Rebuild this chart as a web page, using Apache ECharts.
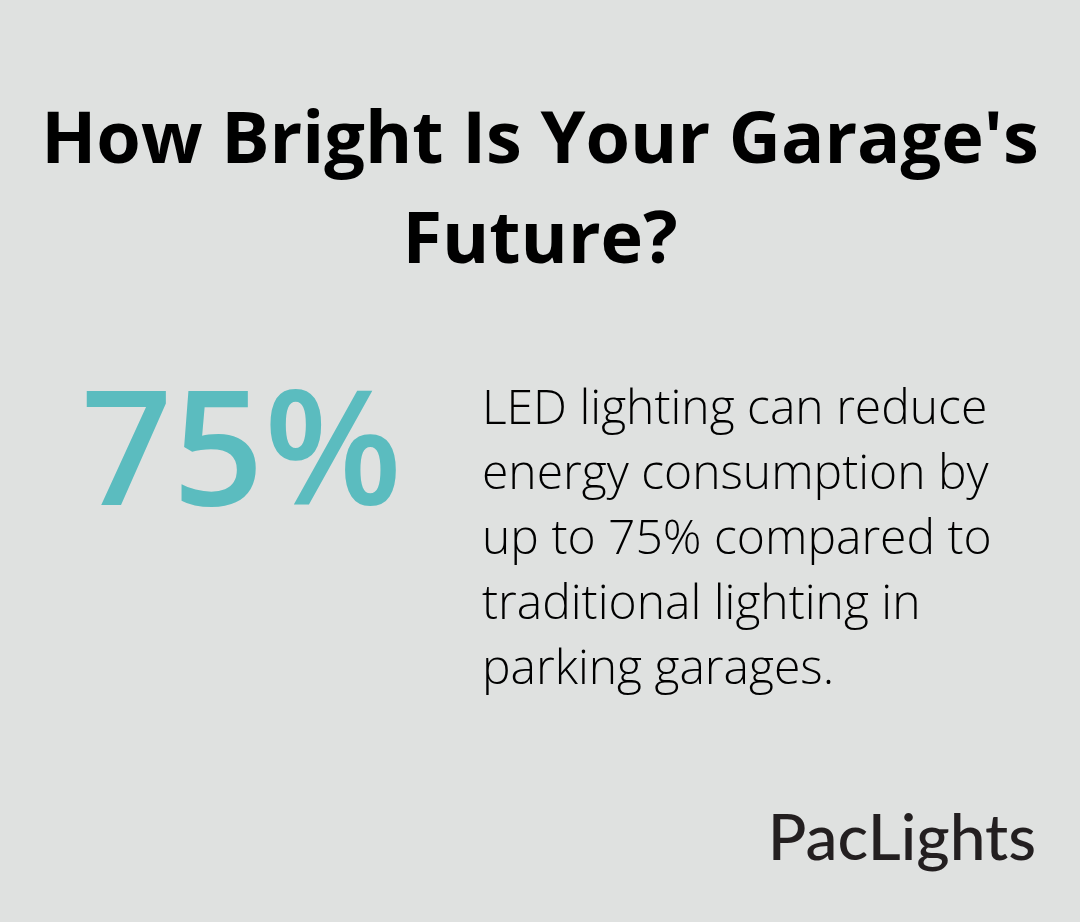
<!DOCTYPE html>
<html>
<head>
<meta charset="utf-8">
<script src="https://cdn.jsdelivr.net/npm/echarts@6/dist/echarts.min.js"></script>
<style>
  html, body { margin: 0; padding: 0; background: #dfe1e0; }
  #main { width: 1080px; height: 922px; }
</style>
</head>
<body>
<div id="main"></div>
<script>
// texts and the stat value
var titleLines = ["How Bright Is Your Garage's", "Future?"];
var statValue = 75;
var bodyLines = [
  'LED lighting can reduce',
  'energy consumption by',
  'up to 75% compared to',
  'traditional lighting in',
  'parking garages.'
];
var brand = 'PacLights';

var myChart = echarts.init(document.getElementById('main'));

var elements = [];
// title
titleLines.forEach(function (t, i) {
  elements.push({
    type: 'text',
    style: {
      text: t,
      x: 540,
      y: 142 + i * 100,
      textAlign: 'center',
      textVerticalAlign: 'middle',
      font: 'bold 72px "Open Sans"',
      fill: '#000000'
    }
  });
});
// big number
elements.push({
  type: 'text',
  style: {
    text: statValue + '%',
    x: 81,
    y: 459,
    textAlign: 'left',
    textVerticalAlign: 'middle',
    font: '600 160px "Open Sans"',
    fill: '#5bbcbf'
  }
});
// body text
bodyLines.forEach(function (t, i) {
  elements.push({
    type: 'text',
    style: {
      text: t,
      x: 482,
      y: 410 + i * 65,
      textAlign: 'left',
      textVerticalAlign: 'middle',
      font: '300 48px "Open Sans"',
      fill: '#000000'
    }
  });
});
// brand
elements.push({
  type: 'text',
  style: {
    text: brand,
    x: 1036,
    y: 839,
    textAlign: 'right',
    textVerticalAlign: 'middle',
    font: '500 64px "Lato"',
    fill: '#231f20'
  }
});

var option = {
  backgroundColor: '#dfe1e0',
  graphic: { elements: elements }
};
myChart.setOption(option, true);
</script>
</body>
</html>
